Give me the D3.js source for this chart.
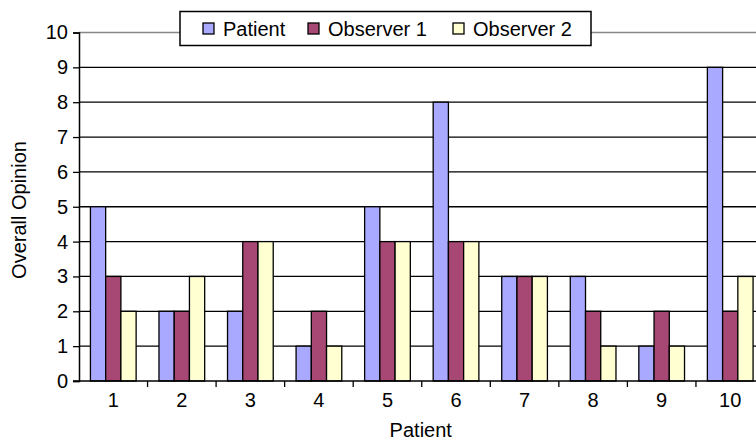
<!DOCTYPE html>
<html>
<head>
<meta charset="utf-8">
<script src="https://cdn.jsdelivr.net/npm/d3@7.9.0/dist/d3.min.js"></script>
<style>
  body { margin: 0; background: #fff; }
  svg { display: block; font-family: "Liberation Sans", Arial, sans-serif; }
</style>
</head>
<body>
<svg id="chart" width="756" height="440"></svg>
<script>
const categories = ["1", "2", "3", "4", "5", "6", "7", "8", "9", "10"];
const seriesNames = ["Patient", "Observer 1", "Observer 2"];
const patient = [5, 2, 2, 1, 5, 8, 3, 3, 1, 9];
const observer1 = [3, 2, 4, 2, 4, 4, 3, 2, 2, 2];
const observer2 = [2, 3, 4, 1, 4, 4, 3, 1, 1, 3];
const yTicks = [0, 1, 2, 3, 4, 5, 6, 7, 8, 9, 10];

const colors = ["#a9a9ff", "#a64873", "#ffffd2"];
const series = [patient, observer1, observer2];

const svg = d3.select("#chart");
const plotLeft = 79, plotRight = 764.5, plotTop = 32.5, plotBottom = 381;

const x0 = d3.scaleBand()
  .domain(categories)
  .range([plotLeft, plotRight])
  .paddingInner(1 / 3)
  .paddingOuter(1 / 6);

const x1 = d3.scaleBand()
  .domain(seriesNames)
  .range([0, x0.bandwidth()]);

const y = d3.scaleLinear().domain([0, 10]).range([plotBottom, plotTop]);

// gridlines
svg.append("g")
  .selectAll("line")
  .data(yTicks.filter(d => d > 0 && d < 10))
  .join("line")
  .attr("x1", plotLeft).attr("x2", 756)
  .attr("y1", d => y(d)).attr("y2", d => y(d))
  .attr("stroke", "#000").attr("stroke-width", 1.3);

// top plot border (grey)
svg.append("line")
  .attr("x1", plotLeft).attr("x2", 756)
  .attr("y1", y(10)).attr("y2", y(10))
  .attr("stroke", "#888").attr("stroke-width", 1.3);

// bars
const groups = svg.append("g")
  .selectAll("g")
  .data(categories)
  .join("g")
  .attr("transform", d => `translate(${x0(d)},0)`);

groups.selectAll("rect")
  .data((d, i) => seriesNames.map((s, j) => ({ s, j, v: series[j][i] })))
  .join("rect")
  .attr("x", d => x1(d.s))
  .attr("y", d => y(d.v))
  .attr("width", x1.bandwidth())
  .attr("height", d => y(0) - y(d.v))
  .attr("fill", d => colors[d.j])
  .attr("stroke", "#000")
  .attr("stroke-width", 1.3);

// y axis
const yAxis = d3.axisLeft(y).tickValues(yTicks).tickSize(6).tickPadding(5);
const gy = svg.append("g").attr("transform", `translate(${plotLeft},0)`).call(yAxis);
gy.select(".domain").attr("stroke", "#000").attr("stroke-width", 1.5);
gy.selectAll(".tick line").attr("stroke", "#000").attr("stroke-width", 1.3);
gy.selectAll(".tick text").attr("font-size", 20).attr("fill", "#000")
  .attr("font-family", "Liberation Sans, Arial, sans-serif");

// x axis
const xAxis = d3.axisBottom(x0).tickSize(0).tickPadding(12);
const gx = svg.append("g").attr("transform", `translate(0,${plotBottom})`).call(xAxis);
gx.select(".domain").remove();
gx.selectAll(".tick text").attr("font-size", 20).attr("fill", "#000")
  .attr("font-family", "Liberation Sans, Arial, sans-serif");
svg.append("line")
  .attr("x1", plotLeft - 6).attr("x2", 756)
  .attr("y1", plotBottom).attr("y2", plotBottom)
  .attr("stroke", "#000").attr("stroke-width", 1.5);

// tick marks between categories
svg.append("g")
  .selectAll("line")
  .data(categories.slice(1))
  .join("line")
  .attr("x1", d => x0(d) - x0.step() * x0.paddingInner() / 2)
  .attr("x2", d => x0(d) - x0.step() * x0.paddingInner() / 2)
  .attr("y1", plotBottom).attr("y2", plotBottom + 6)
  .attr("stroke", "#000").attr("stroke-width", 1.3);

// axis titles
svg.append("text")
  .attr("x", (plotLeft + plotRight) / 2 - 1).attr("y", 437)
  .attr("text-anchor", "middle").attr("font-size", 20)
  .text("Patient");

svg.append("text")
  .attr("transform", `translate(26,210) rotate(-90)`)
  .attr("text-anchor", "middle").attr("font-size", 20)
  .text("Overall Opinion");

// legend
const legend = svg.append("g");
legend.append("rect")
  .attr("x", 180).attr("y", 11.5).attr("width", 411).attr("height", 34)
  .attr("fill", "#fff").attr("stroke", "#000").attr("stroke-width", 1.5);

const legendX = [203, 308, 453];
seriesNames.forEach((name, i) => {
  legend.append("rect")
    .attr("x", legendX[i]).attr("y", 23).attr("width", 11).attr("height", 11)
    .attr("fill", colors[i]).attr("stroke", "#000").attr("stroke-width", 1.3);
  legend.append("text")
    .attr("x", legendX[i] + 20).attr("y", 35.5)
    .attr("font-size", 20)
    .text(name);
});
</script>
</body>
</html>
